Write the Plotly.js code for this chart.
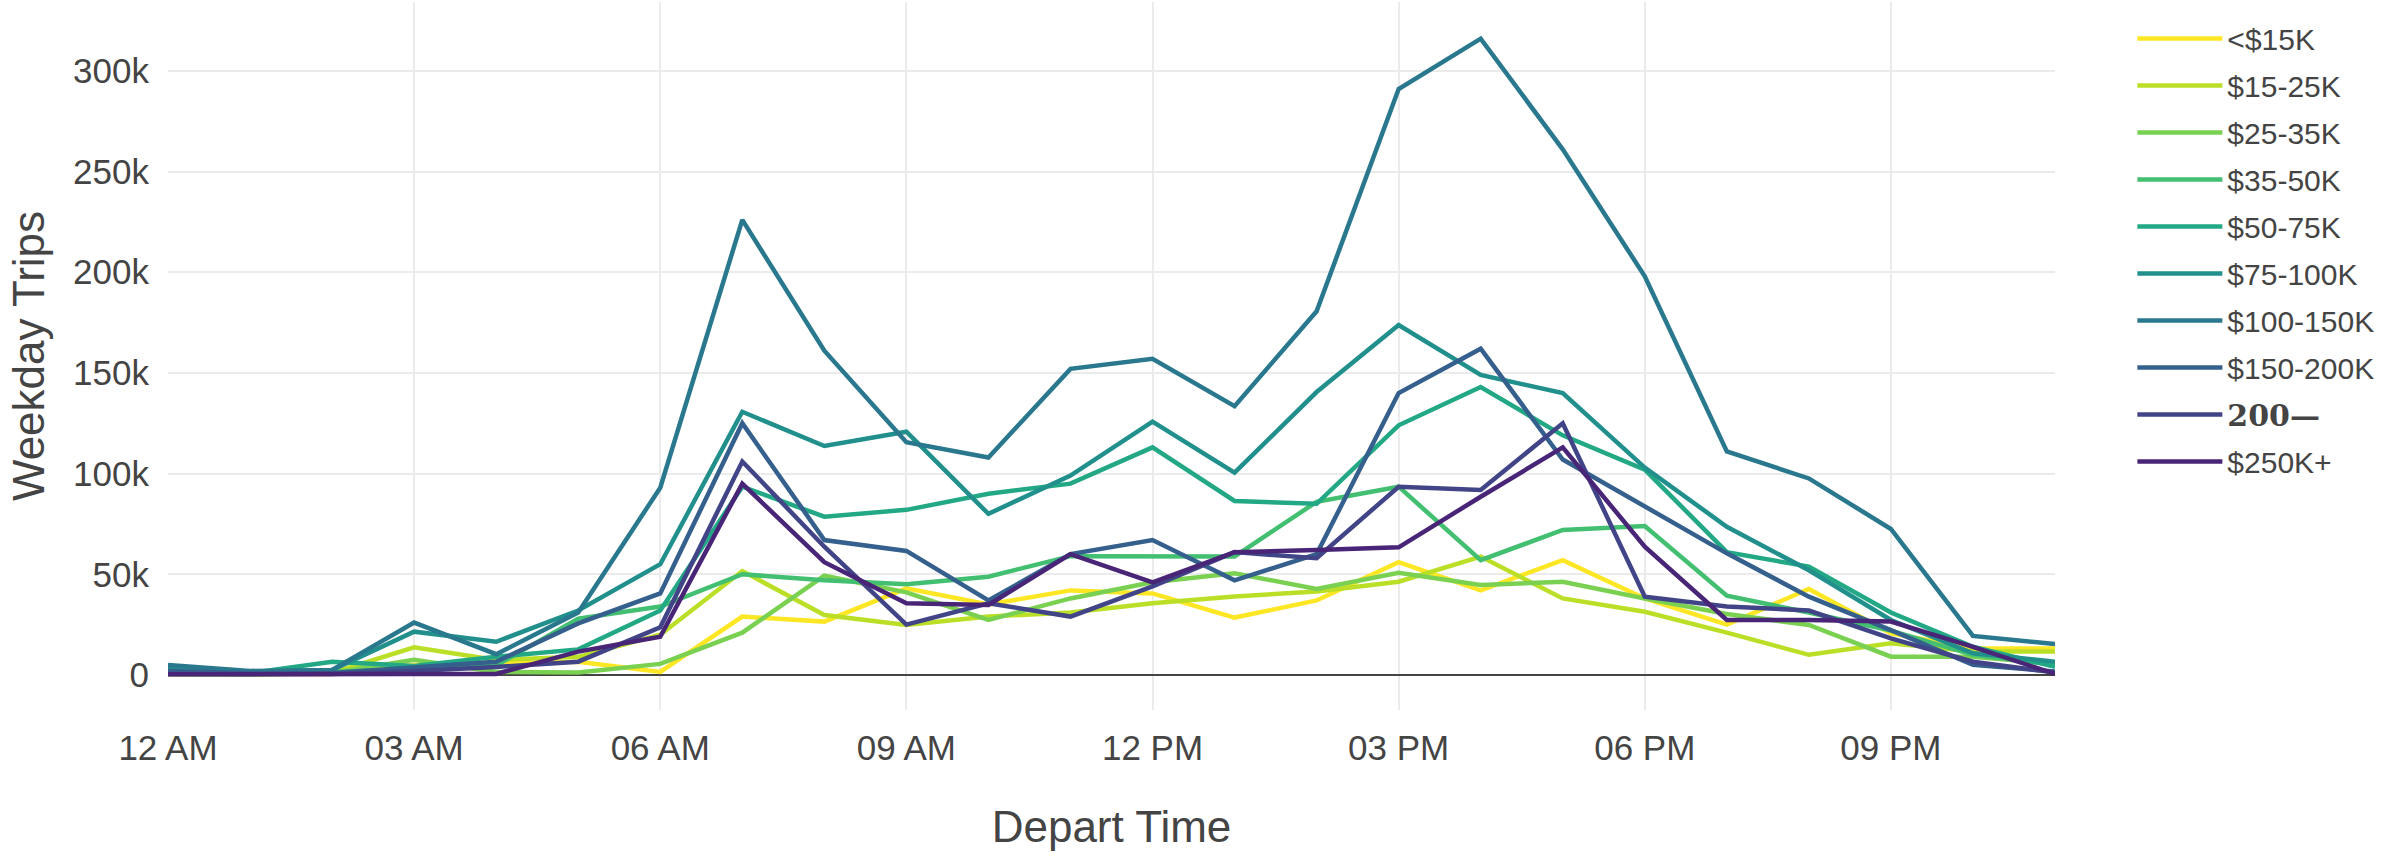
<!DOCTYPE html>
<html>
<head>
<meta charset="utf-8">
<script src="https://cdn.plot.ly/plotly-3.0.1.min.js"></script>
<style>html,body{margin:0;padding:0;background:#fff;}#chart{width:2382px;height:856px;}</style>
</head>
<body>
<div id="chart"></div>
<script>
// Hours of departure (24 hourly bins)
const hours = ['00:00','01:00','02:00','03:00','04:00','05:00','06:00','07:00','08:00','09:00','10:00','11:00',
               '12:00','13:00','14:00','15:00','16:00','17:00','18:00','19:00','20:00','21:00','22:00','23:00'];

const seriesNames = ['<$15K','$15-25K','$25-35K','$35-50K','$50-75K','$75-100K','$100-150K','$150-200K',
  '<span style="font-family:DejaVu Serif;font-weight:bold">200—</span>','$250K+'];

const incLt15   = [500,300,500,5000,6000,6500,1500,29000,26500,43000,35000,42000,40500,28500,37000,56000,42000,57000,38000,25000,42700,20700,13200,13200];
const inc15_25  = [500,300,1000,13700,7400,9000,20000,51600,29800,24800,29000,31000,35600,39000,41400,46300,58800,38000,31400,21000,10000,15700,11600,11600];
const inc25_35  = [500,300,1000,7500,1500,1200,5500,21000,49300,41000,27300,38000,46000,50500,42700,50800,44700,46300,38000,30300,24800,9100,9100,5500];
const inc35_50  = [1000,500,1500,3000,4700,28000,34000,50000,47000,45000,48800,59000,58800,58800,86000,93500,57000,72000,74000,39400,31000,22000,10000,5000];
const inc50_75  = [2000,1000,6600,4500,9000,12700,32000,93500,78600,82000,90000,95000,113000,86400,85000,124000,143000,119000,102000,61000,53800,31000,14000,4000];
const inc75_100 = [3500,1500,2500,21500,16500,32000,55000,130700,113700,120800,80000,99000,125800,100500,140500,173800,149000,140000,103000,73600,52000,27300,10800,6600];
const inc100_150= [5000,2000,2500,26000,10300,31000,93000,226000,161000,115600,108000,152000,157000,133500,180600,291000,316000,261000,198000,111000,97600,72500,19400,15400];
const inc150_200= [2000,1000,1000,4000,6600,25600,40500,125000,67000,61600,37000,60000,67000,47000,60000,140000,162000,107000,84000,60400,38900,22300,5000,1700];
const inc200_250= [500,300,500,2000,4000,6600,23700,106000,63700,25000,35600,29000,44000,61000,58000,93500,91900,125000,38900,34000,32000,18200,6600,1200];
const inc250p   = [300,200,300,500,500,11600,19000,95000,56000,35600,34800,60000,46000,61000,62000,63400,88500,113000,63700,27300,27300,26500,14000,500];

const colors = ['#FDE725','#BBDF27','#7AD151','#43BF71','#22A884','#21908C','#2A788E','#35608D','#414487','#482576'];

const allValues = [incLt15,inc15_25,inc25_35,inc35_50,inc50_75,inc75_100,inc100_150,inc150_200,inc200_250,inc250p];
const xs = hours.map(h => '2019-01-01 ' + h);

const traces = allValues.map((vals, i) => ({
  type: 'scatter', mode: 'lines', x: xs, y: vals, name: seriesNames[i],
  legendgroup: 'g' + i,
  line: {color: colors[i], width: 4.5}
}));

const titleFont = {family: 'Liberation Sans, Arial, sans-serif', size: 44, color: '#444'};

const layout = {
  width: 2382, height: 856,
  margin: {l: 168, r: 327, t: 2, b: 146},
  paper_bgcolor: '#fff', plot_bgcolor: '#fff',
  font: {family: 'Liberation Sans, Arial, sans-serif', color: '#444', size: 30},
  showlegend: true,
  xaxis: {
    type: 'date', range: [xs[0], xs[xs.length-1]],
    tickformat: '%I %p', dtick: 10800000, tick0: xs[0],
    showgrid: true, gridcolor: '#ebebeb', gridwidth: 2,
    zeroline: false, showline: false, ticks: '',
    tickfont: {size: 35}, ticklabelstandoff: 14,
    automargin: false,
    title: {text: 'Depart Time', font: titleFont, standoff: 45}
  },
  yaxis: {
    range: [-17400, 334200], dtick: 50000, tickformat: '~s',
    showgrid: true, gridcolor: '#ebebeb', gridwidth: 2,
    zeroline: true, zerolinecolor: '#444', zerolinewidth: 2,
    showline: false, ticks: '',
    tickfont: {size: 35}, ticklabelstandoff: 18,
    automargin: false,
    title: {text: 'Weekday Trips', font: titleFont, standoff: 14}
  },
  legend: {x: 1.041, xanchor: 'left', y: 0.985, yanchor: 'top', font: {size: 30}, itemwidth: 85,
           tracegroupgap: 5, bgcolor: 'rgba(0,0,0,0)'}
};

Plotly.newPlot('chart', traces, layout, {displayModeBar: false, staticPlot: true});
</script>
</body>
</html>
